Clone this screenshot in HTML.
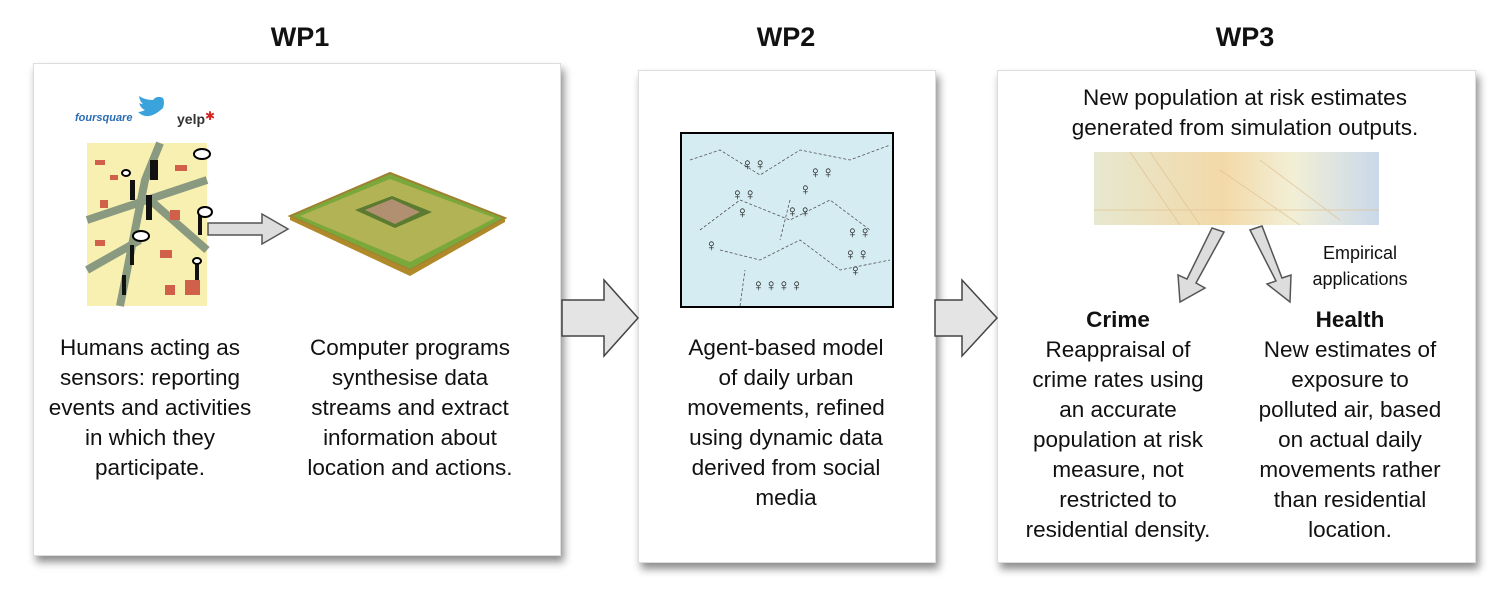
<!DOCTYPE html>
<html><head><meta charset="utf-8"><style>
body{margin:0;width:1507px;height:602px;background:#fff;position:relative;overflow:hidden;font-family:"Liberation Sans",sans-serif;color:#111}
.box{position:absolute;background:#fff;box-shadow:3px 6px 8px rgba(0,0,0,.45);border:1px solid #ddd}
.h{position:absolute;font-weight:bold;font-size:27px;text-align:center;width:200px}
.t{position:absolute;font-size:22.5px;line-height:30px;text-align:center;white-space:nowrap}
</style></head><body>
<div class="h" style="left:200px;top:22px">WP1</div>
<div class="h" style="left:686px;top:22px">WP2</div>
<div class="h" style="left:1145px;top:22px">WP3</div>

<div class="box" style="left:33px;top:63px;width:526px;height:491px"></div>
<div class="box" style="left:638px;top:70px;width:296px;height:491px"></div>
<div class="box" style="left:997px;top:70px;width:477px;height:491px"></div>

<svg width="1507" height="602" style="position:absolute;left:0;top:0">
<text x="75" y="121" font-family="Liberation Sans" font-size="11" font-weight="bold" fill="#2a6db5" font-style="italic">foursquare</text>
<path d="M138 112 q10 10 25 -4 q2 -6 0 -10 q-6 -3 -10 2 q-8 0 -14 -4 q1 6 4 8 q-4 0 -4 -2 q1 6 6 8 q-4 2 -7 2z" fill="#3aa3dc"/>
<text x="177" y="124" font-family="Liberation Sans" font-size="14" font-weight="bold" fill="#333">yelp</text>
<text x="205" y="120" font-size="12" fill="#d32323">✱</text>
<rect x="87" y="143" width="120" height="163" fill="#f7f0b0"/>
<path d="M120 306 L145 180 L160 143 M87 220 L207 180 M150 200 L207 250 M87 270 L140 240" stroke="#8a9a80" stroke-width="8" fill="none"/>
<g fill="#d0604a">
<rect x="95" y="160" width="10" height="5"/><rect x="175" y="165" width="12" height="6"/><rect x="100" y="200" width="8" height="8"/><rect x="170" y="210" width="10" height="10"/><rect x="160" y="250" width="12" height="8"/><rect x="185" y="280" width="15" height="15"/><rect x="95" y="240" width="10" height="6"/><rect x="165" y="285" width="10" height="10"/><rect x="110" y="175" width="8" height="5"/></g>
<g fill="#111"><rect x="146" y="195" width="6" height="25"/><rect x="130" y="180" width="5" height="20"/><rect x="150" y="160" width="8" height="20"/><rect x="198" y="215" width="4" height="20"/><rect x="130" y="245" width="4" height="20"/><rect x="122" y="275" width="4" height="20"/><rect x="195" y="260" width="4" height="20"/></g>
<g fill="#fff" stroke="#000" stroke-width="2"><ellipse cx="202" cy="154" rx="8" ry="5"/><ellipse cx="205" cy="212" rx="7" ry="5"/><ellipse cx="141" cy="236" rx="8" ry="5"/><ellipse cx="126" cy="173" rx="4" ry="3"/><ellipse cx="197" cy="261" rx="4" ry="3"/></g>
<path d="M208 223 L262 223 L262 214 L288 229 L262 244 L262 235 L208 235Z" fill="#ddd" stroke="#555" stroke-width="1.5"/>
<path d="M290 216 L390 173 L505 218 L410 270Z" fill="#7aa83a" stroke="#a08030" stroke-width="2"/>
<path d="M290 216 L410 270 L505 218 L505 222 L410 276 L290 220Z" fill="#b08a2a"/>
<path d="M300 216 L390 179 L495 218 L410 262Z" fill="#c9b860" opacity=".7"/>
<path d="M355 210 L392 196 L432 212 L395 228Z" fill="#5c7a30"/>
<path d="M365 210 L392 199 L420 212 L395 224Z" fill="#b09070"/>
<rect x="681" y="133" width="212" height="174" fill="#d6ecf3" stroke="#000" stroke-width="2"/>
<g stroke="#555" stroke-width="0.8" fill="none" stroke-dasharray="3,2"><path d="M690 160 L720 150 L760 175 L800 150 L850 160 L890 145 M700 230 L740 200 L790 220 L830 200 L870 230 M720 250 L760 260 L800 240 L840 270 L890 260 M740 306 L745 270 M790 200 L780 240"/></g>
<g font-size="17" fill="#222"><text x="741" y="170">♀♀</text><text x="809" y="178">♀♀</text><text x="731" y="200">♀♀</text><text x="799" y="195">♀</text><text x="736" y="218">♀</text><text x="786" y="217">♀♀</text><text x="705" y="251">♀</text><text x="846" y="238">♀♀</text><text x="844" y="260">♀♀</text><text x="849" y="276">♀</text><text x="752" y="291">♀♀♀♀</text></g>
<defs><linearGradient id="g" x1="0" x2="1"><stop offset="0" stop-color="#e6e8d0"/><stop offset=".45" stop-color="#f3d9a8"/><stop offset=".7" stop-color="#f2efd6"/><stop offset="1" stop-color="#c9d8ea"/></linearGradient></defs>
<rect x="1094" y="152" width="285" height="73" fill="url(#g)"/>
<g stroke="#e0c090" stroke-width="1" opacity=".7" fill="none"><path d="M1130 152 L1180 225 M1150 152 L1200 225 M1094 210 L1379 210 M1220 170 L1300 225 M1260 160 L1340 220"/></g>
<path d="M1212 228 L1224 232 L1196 283 L1205 288 L1180 302 L1178 275 L1187 279Z" fill="#ddd" stroke="#555" stroke-width="1.5"/>
<path d="M1250 230 L1262 226 L1282 278 L1291 275 L1290 302 L1267 284 L1276 281Z" fill="#ddd" stroke="#555" stroke-width="1.5"/>
<path d="M562 300 L604 300 L604 280 L638 318 L604 356 L604 336 L562 336Z" fill="#e4e4e4" stroke="#444" stroke-width="1.5"/>
<path d="M935 300 L962 300 L962 280 L997 318 L962 356 L962 336 L935 336Z" fill="#e4e4e4" stroke="#444" stroke-width="1.5"/>
</svg>

<div class="t" style="left:35px;top:333px;width:230px">Humans acting as<br>sensors: reporting<br>events and activities<br>in which they<br>participate.</div>
<div class="t" style="left:290px;top:333px;width:240px">Computer programs<br>synthesise data<br>streams and extract<br>information about<br>location and actions.</div>
<div class="t" style="left:665px;top:333px;width:242px">Agent-based model<br>of daily urban<br>movements, refined<br>using dynamic data<br>derived from social<br>media</div>
<div class="t" style="left:1030px;top:83px;width:430px">New population at risk estimates<br>generated from simulation outputs.</div>
<div class="t" style="left:1310px;top:240px;width:100px;font-size:18px;line-height:26px">Empirical<br>applications</div>
<div class="t" style="left:1008px;top:305px;width:220px"><b>Crime</b><br>Reappraisal of<br>crime rates using<br>an accurate<br>population at risk<br>measure, not<br>restricted to<br>residential density.</div>
<div class="t" style="left:1245px;top:305px;width:210px"><b>Health</b><br>New estimates of<br>exposure to<br>polluted air, based<br>on actual daily<br>movements rather<br>than residential<br>location.</div>
</body></html>
